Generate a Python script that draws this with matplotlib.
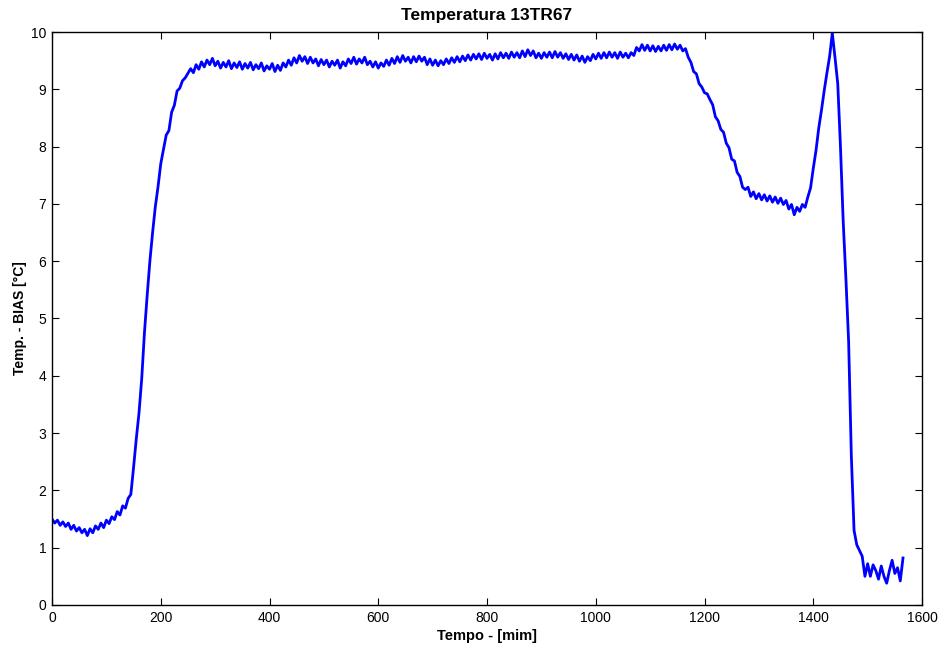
import numpy as np
import matplotlib
matplotlib.use("Agg")
import matplotlib.pyplot as plt

plt.rcParams['font.family'] = ['Liberation Sans', 'DejaVu Sans']

# Sampling grid of the logged temperature (minutes)
step_min = 5
t_start = 0

# Temperature minus bias, one reading per 5 minutes
temp_start = [
    1.50, 1.43, 1.48, 1.39, 1.45, 1.37, 1.43, 1.32, 1.39, 1.29,
    1.35, 1.26, 1.32, 1.21, 1.33, 1.26, 1.38, 1.32, 1.43, 1.35,
    1.48, 1.42, 1.54, 1.49, 1.63, 1.57, 1.73, 1.69, 1.86,
]
temp_rise = [
    1.93, 2.40, 2.90, 3.35, 3.95, 4.75, 5.40, 6.00, 6.50, 6.95,
    7.30, 7.70, 7.95, 8.20, 8.28, 8.60, 8.72, 8.97, 9.02, 9.15,
    9.20,
]
temp_plateau = [
    9.28, 9.36, 9.29, 9.43, 9.35, 9.48, 9.39, 9.51, 9.43, 9.54,
    9.41, 9.49, 9.37, 9.47, 9.39, 9.50, 9.36, 9.46, 9.38, 9.48,
    9.35, 9.45, 9.37, 9.47, 9.34, 9.43, 9.36, 9.46, 9.32, 9.41,
    9.35, 9.45, 9.31, 9.42, 9.33, 9.46, 9.39, 9.51, 9.42, 9.55,
    9.46, 9.59, 9.49, 9.57, 9.45, 9.56, 9.46, 9.53, 9.41, 9.52,
    9.43, 9.51, 9.39, 9.49, 9.42, 9.51, 9.37, 9.48, 9.41, 9.53,
    9.45, 9.56, 9.44, 9.53, 9.46, 9.56, 9.43, 9.49, 9.39, 9.48,
    9.37, 9.46, 9.40, 9.51, 9.42, 9.54, 9.45, 9.57, 9.47, 9.59,
    9.49, 9.56, 9.46, 9.57, 9.48, 9.58, 9.49, 9.56, 9.43, 9.53,
    9.42, 9.51, 9.41, 9.50, 9.43, 9.53, 9.45, 9.55, 9.47, 9.57,
    9.48, 9.58, 9.50, 9.60, 9.51, 9.61, 9.53, 9.62, 9.52, 9.63,
    9.54, 9.61, 9.51, 9.62, 9.53, 9.64, 9.55, 9.63, 9.54, 9.65,
    9.56, 9.64, 9.55, 9.67, 9.57, 9.69, 9.59, 9.67, 9.55, 9.63,
    9.54, 9.64, 9.56, 9.65, 9.55, 9.66, 9.56, 9.64, 9.54, 9.62,
    9.52, 9.61, 9.51, 9.60, 9.49, 9.58, 9.47, 9.57, 9.50, 9.61,
    9.53, 9.63, 9.54, 9.64, 9.55, 9.65, 9.56, 9.64, 9.54, 9.65,
    9.56, 9.63, 9.55, 9.64, 9.59, 9.73, 9.67, 9.78, 9.68, 9.77,
    9.67, 9.76, 9.66, 9.75, 9.67, 9.77, 9.68, 9.78, 9.69, 9.79,
    9.70, 9.77, 9.67, 9.71,
]
temp_cooling = [
    9.56, 9.47, 9.31, 9.27, 9.10, 9.04, 8.94, 8.92, 8.82, 8.73,
    8.52, 8.45, 8.30, 8.25, 8.06, 7.98, 7.78, 7.75, 7.55, 7.48,
    7.29, 7.25, 7.29, 7.13, 7.21, 7.09, 7.18, 7.07, 7.16, 7.05,
    7.14, 7.03, 7.12, 7.01, 7.10, 6.99, 7.06, 6.91, 6.99, 6.81,
    6.94, 6.87, 6.99, 6.94, 7.12, 7.28, 7.62, 7.93, 8.32, 8.63,
    8.97, 9.28, 9.57, 9.98, 9.55, 9.10, 8.00, 6.70, 5.70, 4.60,
    2.60, 1.30,
]
temp_end = [
    1.05, 0.95, 0.85, 0.50, 0.72, 0.50, 0.70, 0.60, 0.45, 0.68,
    0.50, 0.38, 0.60, 0.78, 0.55, 0.65, 0.42, 0.82,
]

temperature = np.array(temp_start + temp_rise + temp_plateau + temp_cooling + temp_end)
time_min = np.arange(t_start, t_start + step_min * len(temperature), step_min)

x_ticks = [0, 200, 400, 600, 800, 1000, 1200, 1400, 1600]
y_ticks = [0, 1, 2, 3, 4, 5, 6, 7, 8, 9, 10]

fig = plt.figure(figsize=(9.42, 6.48), dpi=100)
ax = fig.add_axes([0.0552, 0.0664, 0.9236, 0.8842])

ax.plot(time_min, temperature, color='#0000ff', linewidth=2.0)

ax.set_xlim(0, 1600)
ax.set_ylim(0, 10)
ax.set_xticks(x_ticks)
ax.set_yticks(y_ticks)
ax.tick_params(direction='in', length=5, width=0.8, top=True, right=True,
               labelsize=10, pad=4)
for side in ax.spines.values():
    side.set_linewidth(1.0)

ax.set_title('Temperatura 13TR67', fontsize=12.5, fontweight='bold', pad=9)
ax.set_xlabel('Tempo - [mim]', fontsize=10.5, fontweight='bold', labelpad=3)
ax.set_ylabel('Temp. - BIAS [°C]', fontsize=10, fontweight='bold', labelpad=3)

fig.savefig('out.png', dpi=100)
